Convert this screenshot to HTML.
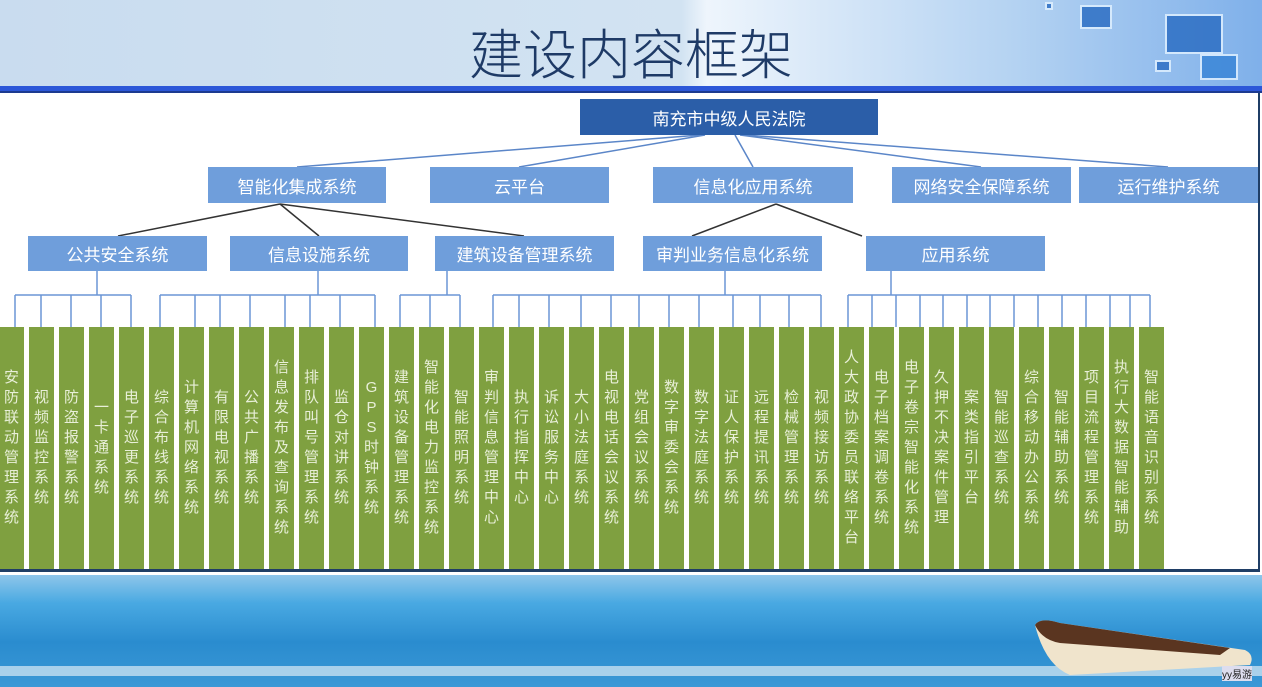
<!DOCTYPE html>
<html><head><meta charset="utf-8"><style>
*{margin:0;padding:0;box-sizing:border-box}
body{width:1262px;height:687px;overflow:hidden;position:relative;background:#fff;font-family:"Liberation Sans","Noto Sans CJK SC",sans-serif}
#hdr{position:absolute;left:0;top:0;width:1262px;height:86px;background:linear-gradient(90deg,#c9dcef 0%,#d2e3f2 54%,#eef5fc 56%,#b5d3f2 80%,#7fb0ea 100%)}
#title{position:absolute;left:0;width:1262px;top:16px;text-align:center;font-family:"Noto Sans CJK SC",sans-serif;font-weight:300;font-size:54px;line-height:70px;color:#1e3a66}
.sq{position:absolute;border:2px solid #dff0ff;background:#2d6fc4;opacity:.85}
#bar1{position:absolute;left:0;top:86px;width:1262px;height:5px;background:#2c57d8}
#bar2{position:absolute;left:0;top:91px;width:1262px;height:2px;background:#1c3a90}
#panel{position:absolute;left:0;top:93px;width:1260px;height:479px;border-right:2px solid #1f3e66;border-bottom:3px solid #1f3e66}
.b{position:absolute;display:flex;align-items:center;justify-content:center;color:#fff;font-size:17px;background:#6f9edb}
.c{position:absolute;top:327px;width:25px;height:242px;background:#7fa040;color:#e8efd8;font-size:15px;line-height:20px;display:flex;align-items:center;justify-content:center}
.c span{width:15px;word-break:break-all;text-align:center}
#foot{position:absolute;left:0;top:575px;width:1262px;height:112px;background:linear-gradient(180deg,#8ec6ea 0%,#49a9e2 25%,#2a8ccf 60%,#3b98d6 100%)}
</style></head><body>
<div id="hdr"></div>
<div class="sq" style="left:1080px;top:5px;width:32px;height:24px"></div>
<div class="sq" style="left:1165px;top:14px;width:58px;height:40px"></div>
<div class="sq" style="left:1200px;top:54px;width:38px;height:26px;background:#3a86d8"></div>
<div class="sq" style="left:1045px;top:2px;width:8px;height:8px"></div>
<div class="sq" style="left:1155px;top:60px;width:16px;height:12px"></div>
<div id="title">建设内容框架</div>
<div id="bar1"></div><div id="bar2"></div>
<div id="panel"></div>
<svg style="position:absolute;left:0;top:0" width="1262" height="687">
<g stroke="#5b86c8" stroke-width="1.5" fill="none">
<line x1="700" y1="135" x2="297" y2="167"/><line x1="705" y1="135" x2="519" y2="167"/>
<line x1="735" y1="135" x2="753" y2="167"/><line x1="740" y1="135" x2="981" y2="167"/>
<line x1="745" y1="135" x2="1168" y2="167"/>
</g>
<g stroke="#333" stroke-width="1.5" fill="none">
<line x1="280" y1="204" x2="118" y2="236"/><line x1="280" y1="204" x2="319" y2="236"/><line x1="280" y1="204" x2="524" y2="236"/>
<line x1="776" y1="204" x2="692" y2="236"/><line x1="776" y1="204" x2="862" y2="236"/>
</g>
<g stroke="#6b96d6" stroke-width="1.5" fill="none">
<path d="M97 271V295M15 295H131M15 295V327M41 295V327M71 295V327M101 295V327M131 295V327"/>
<path d="M318 271V295M160 295H375M160 295V327M195 295V327M220 295V327M250 295V327M285 295V327M310 295V327M340 295V327M375 295V327"/>
<path d="M447 271V295M400 295H460M400 295V327M430 295V327M460 295V327"/>
<path d="M725 271V295M493 295H821M493 295V327M519 295V327M549 295V327M581 295V327M611 295V327M639 295V327M669 295V327M699 295V327M733 295V327M760 295V327M789 295V327M821 295V327"/>
<path d="M891 271V295M848 295H1150M848 295V327M872 295V327M896 295V327M920 295V327M943 295V327M967 295V327M990 295V327M1014 295V327M1038 295V327M1062 295V327M1086 295V327M1110 295V327M1130 295V327M1150 295V327"/>
</g>
</svg>
<div class="b" style="left:580px;top:99px;width:298px;height:36px;background:#2b5ea8">南充市中级人民法院</div>
<div class="b" style="left:208px;top:167px;width:178px;height:36px">智能化集成系统</div>
<div class="b" style="left:430px;top:167px;width:179px;height:36px">云平台</div>
<div class="b" style="left:653px;top:167px;width:200px;height:36px">信息化应用系统</div>
<div class="b" style="left:892px;top:167px;width:179px;height:36px">网络安全保障系统</div>
<div class="b" style="left:1079px;top:167px;width:179px;height:36px">运行维护系统</div>
<div class="b" style="left:28px;top:236px;width:179px;height:35px">公共安全系统</div>
<div class="b" style="left:230px;top:236px;width:178px;height:35px">信息设施系统</div>
<div class="b" style="left:435px;top:236px;width:179px;height:35px">建筑设备管理系统</div>
<div class="b" style="left:643px;top:236px;width:179px;height:35px">审判业务信息化系统</div>
<div class="b" style="left:866px;top:236px;width:179px;height:35px">应用系统</div>
<div class="c" style="left:-1px"><span>安防联动管理系统</span></div>
<div class="c" style="left:29px"><span>视频监控系统</span></div>
<div class="c" style="left:59px"><span>防盗报警系统</span></div>
<div class="c" style="left:89px"><span>一卡通系统</span></div>
<div class="c" style="left:119px"><span>电子巡更系统</span></div>
<div class="c" style="left:149px"><span>综合布线系统</span></div>
<div class="c" style="left:179px"><span>计算机网络系统</span></div>
<div class="c" style="left:209px"><span>有限电视系统</span></div>
<div class="c" style="left:239px"><span>公共广播系统</span></div>
<div class="c" style="left:269px"><span>信息发布及查询系统</span></div>
<div class="c" style="left:299px"><span>排队叫号管理系统</span></div>
<div class="c" style="left:329px"><span>监仓对讲系统</span></div>
<div class="c" style="left:359px"><span>GPS时钟系统</span></div>
<div class="c" style="left:389px"><span>建筑设备管理系统</span></div>
<div class="c" style="left:419px"><span>智能化电力监控系统</span></div>
<div class="c" style="left:449px"><span>智能照明系统</span></div>
<div class="c" style="left:479px"><span>审判信息管理中心</span></div>
<div class="c" style="left:509px"><span>执行指挥中心</span></div>
<div class="c" style="left:539px"><span>诉讼服务中心</span></div>
<div class="c" style="left:569px"><span>大小法庭系统</span></div>
<div class="c" style="left:599px"><span>电视电话会议系统</span></div>
<div class="c" style="left:629px"><span>党组会议系统</span></div>
<div class="c" style="left:659px"><span>数字审委会系统</span></div>
<div class="c" style="left:689px"><span>数字法庭系统</span></div>
<div class="c" style="left:719px"><span>证人保护系统</span></div>
<div class="c" style="left:749px"><span>远程提讯系统</span></div>
<div class="c" style="left:779px"><span>检械管理系统</span></div>
<div class="c" style="left:809px"><span>视频接访系统</span></div>
<div class="c" style="left:839px"><span>人大政协委员联络平台</span></div>
<div class="c" style="left:869px"><span>电子档案调卷系统</span></div>
<div class="c" style="left:899px"><span>电子卷宗智能化系统</span></div>
<div class="c" style="left:929px"><span>久押不决案件管理</span></div>
<div class="c" style="left:959px"><span>案类指引平台</span></div>
<div class="c" style="left:989px"><span>智能巡查系统</span></div>
<div class="c" style="left:1019px"><span>综合移动办公系统</span></div>
<div class="c" style="left:1049px"><span>智能辅助系统</span></div>
<div class="c" style="left:1079px"><span>项目流程管理系统</span></div>
<div class="c" style="left:1109px"><span>执行大数据智能辅助</span></div>
<div class="c" style="left:1139px"><span>智能语音识别系统</span></div>
<div id="foot"></div>
<div style="position:absolute;left:0;top:666px;width:1262px;height:10px;background:rgba(220,235,245,0.7)"></div>
<svg style="position:absolute;left:1030px;top:615px" width="232" height="72">
<path d="M5 10 Q10 2 30 8 L215 35 Q225 40 220 50 L40 60 Q15 50 5 10Z" fill="#f0e4cc"/>
<path d="M5 10 Q10 2 30 8 L200 33 L190 40 L30 28 Q12 25 5 10Z" fill="#5a3520"/>
</svg>
<div style="position:absolute;left:1222px;top:666px;font-size:10px;color:#222;background:#dde">yy易游</div>
</body></html>
